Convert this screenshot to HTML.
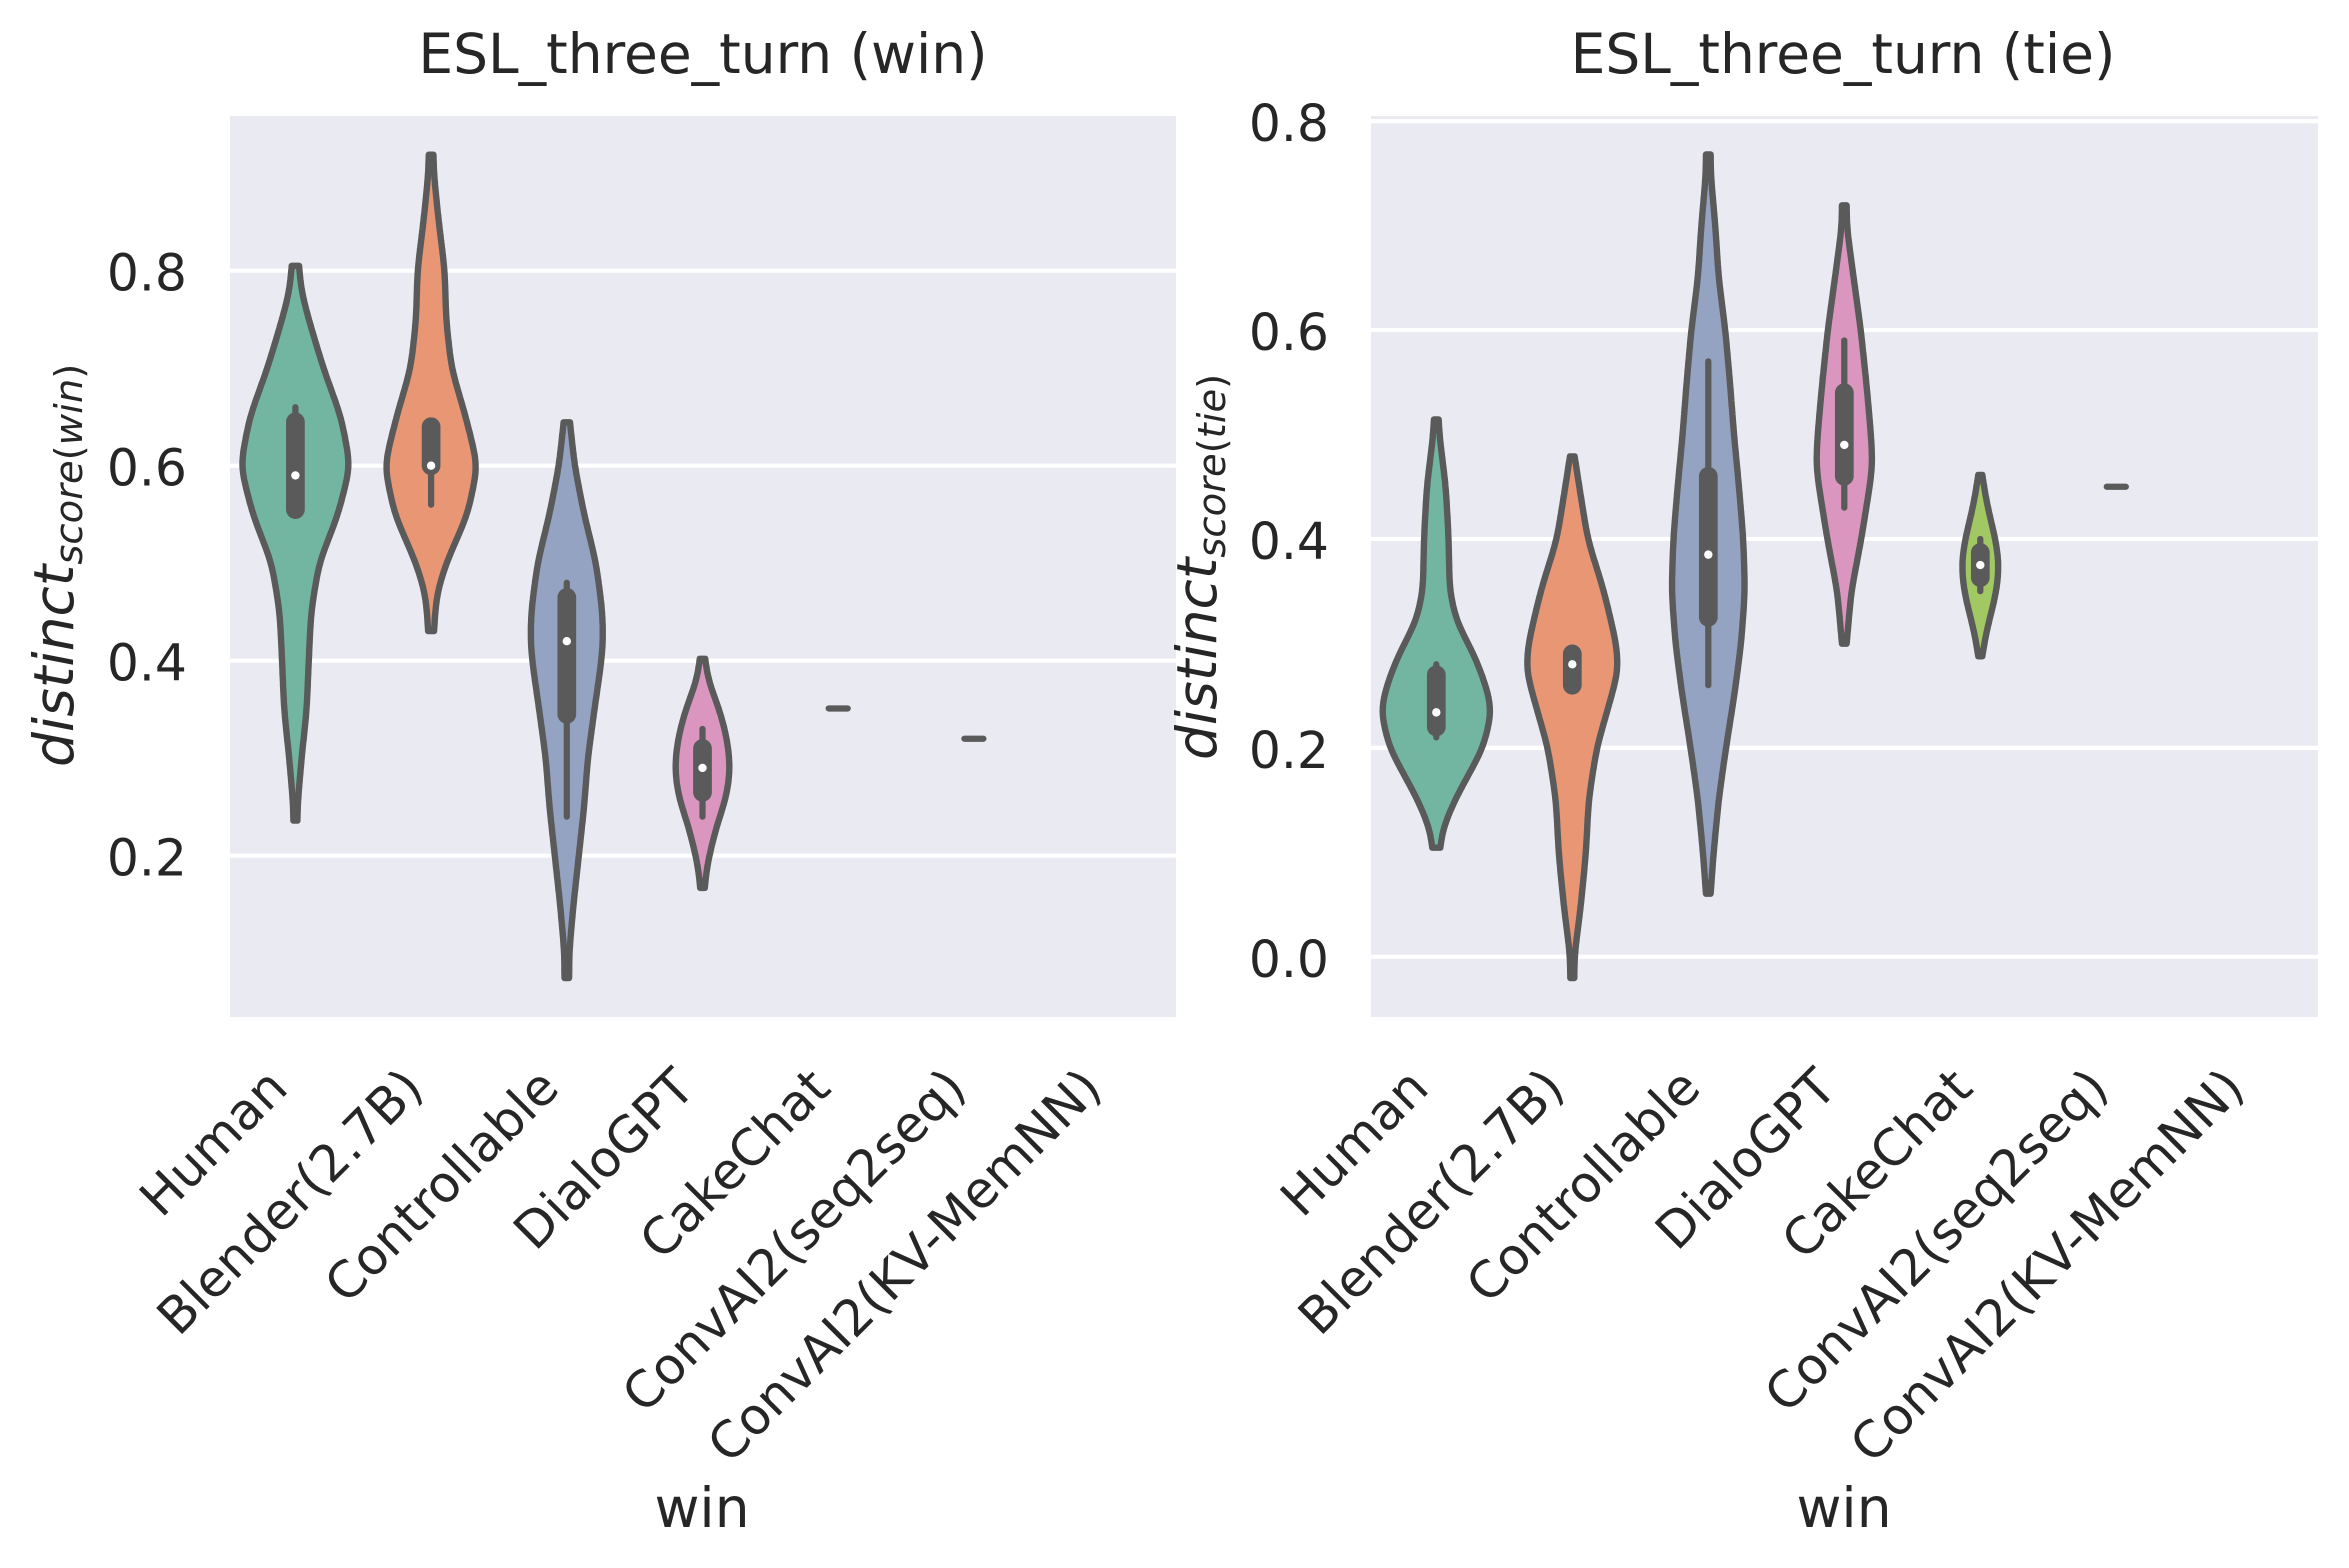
<!DOCTYPE html>
<html lang="en">
<head>
<meta charset="utf-8">
<title>ESL_three_turn violin plots</title>
<style>
html,body{margin:0;padding:0;background:#fff;}
svg{display:block;}
text{font-family:"DejaVu Sans","Liberation Sans",sans-serif;fill:#262626;}
</style>
</head>
<body>
<svg id="chart" xmlns="http://www.w3.org/2000/svg" width="2349" height="1568" viewBox="0 0 2349 1568">
  <rect x="0" y="0" width="2349" height="1568" fill="#ffffff"/>
  <g id="panel-win">
    <rect x="230" y="116" width="946" height="901" fill="#eaeaf2"/>
    <text x="703" y="73" text-anchor="middle" font-size="55">ESL_three_turn (win)</text>
    <text x="702" y="1527" text-anchor="middle" font-size="55">win</text>
    <text transform="translate(73,767) rotate(-90)" font-size="55"><tspan font-style="italic">distinct</tspan><tspan dy="9" font-size="38.5" font-style="italic">score</tspan><tspan font-size="38.5">(</tspan><tspan font-size="38.5" font-style="italic">win</tspan><tspan font-size="38.5">)</tspan></text>
  </g>
  <g id="panel-tie">
    <rect x="1371" y="116" width="947" height="901" fill="#eaeaf2"/>
    <text x="1843" y="73" text-anchor="middle" font-size="55">ESL_three_turn (tie)</text>
    <text x="1844" y="1527" text-anchor="middle" font-size="55">win</text>
    <text transform="translate(1216,760) rotate(-90)" font-size="55"><tspan font-style="italic">distinct</tspan><tspan dy="9" font-size="38.5" font-style="italic">score</tspan><tspan font-size="38.5">(</tspan><tspan font-size="38.5" font-style="italic">tie</tspan><tspan font-size="38.5">)</tspan></text>
  </g>
</svg>
<script>
const categories = ['Human','Blender(2.7B)','Controllable','DialoGPT','CakeChat','ConvAI2(seq2seq)','ConvAI2(KV-MemNN)'];
const fillColors = ['#72b6a1','#e99675','#95a3c3','#db96c0','#a2c864','#dcc37a','#c8b58f'];

const winTicks = [0.2,0.4,0.6,0.8];
const tieTicks = [0.0,0.2,0.4,0.6,0.8];

/* Win panel: density outlines (value grid + relative density) */
const winHumanValues = [0.805,0.78,0.75,0.70,0.65,0.60,0.55,0.50,0.45,0.40,0.35,0.30,0.25,0.236];
const winHumanDensity = [11,17,40,84,137,165,128,71,47,40,34,18.5,6,6];
const winBlenderValues = [0.919,0.90,0.85,0.80,0.75,0.70,0.65,0.60,0.55,0.50,0.47,0.45,0.4305];
const winBlenderDensity = [7,8,23,41,45,61,104,140,109.5,45,18,12,9];
const winControllableValues = [0.6445,0.60,0.55,0.50,0.45,0.42,0.40,0.35,0.30,0.25,0.20,0.15,0.10,0.0746];
const winControllableDensity = [9.5,23.5,52,88,107,109,104,83,63,52,36,20,7,7];
const winDialoValues = [0.402,0.38,0.35,0.32,0.29,0.26,0.23,0.20,0.18,0.167];
const winDialoDensity = [8,16,51,74,84,72,42,20,9,7];

/* Win panel: box statistics for Human, Blender, Controllable, DialoGPT */
const winMedians = [0.59,0.60,0.42,0.29];
const winQ1 = [0.555,0.60,0.345,0.265];
const winQ3 = [0.645,0.64,0.465,0.31];
const winWhiskerLow = [0.555,0.56,0.24,0.24];
const winWhiskerHigh = [0.66,0.64,0.48,0.33];

/* Win panel: single observations */
const winSingleCategories = [4,5];
const winSingleValues = [0.351,0.32];

/* Tie panel: density outlines */
const tieHumanValues = [0.5145,0.50,0.45,0.40,0.35,0.32,0.30,0.28,0.25,0.235,0.20,0.15,0.12,0.1044];
const tieHumanDensity = [7,9,28.5,37,40,61,96,126,158,167,141,55,16,12];
const tieBlenderValues = [0.479,0.45,0.40,0.35,0.30,0.275,0.25,0.20,0.15,0.10,0.05,0.00,-0.0203];
const tieBlenderDensity = [7,21,46,95,132,139,118,73,49,41,26,6,6];
const tieControllableValues = [0.768,0.75,0.70,0.65,0.60,0.55,0.50,0.45,0.40,0.35,0.30,0.25,0.20,0.15,0.10,0.0604];
const tieControllableDensity = [7,7,21,31,51,65,77,92,105,110,98.5,78,53,31,16,7];
const tieDialoValues = [0.7194,0.70,0.65,0.60,0.55,0.50,0.47,0.45,0.40,0.35,0.2997];
const tieDialoDensity = [7,7,28,49.5,66,80,85,76,51,21,7];
const tieCakeValues = [0.4613,0.44,0.42,0.40,0.375,0.35,0.33,0.31,0.2877];
const tieCakeDensity = [6,16,29.5,46,57,49,33.5,17,6];

/* Tie panel: box statistics for Human, Blender, Controllable, DialoGPT, CakeChat */
const tieMedians = [0.234,0.28,0.385,0.49,0.375];
const tieQ1 = [0.22,0.26,0.325,0.46,0.363];
const tieQ3 = [0.27,0.29,0.46,0.54,0.387];
const tieWhiskerLow = [0.21,0.26,0.26,0.43,0.35];
const tieWhiskerHigh = [0.28,0.29,0.57,0.59,0.40];

/* Tie panel: single observations */
const tieSingleCategories = [5];
const tieSingleValues = [0.45];

const SVG_NS = 'http://www.w3.org/2000/svg';
const LINE_COLOR = '#5a5a5a';
const SMOOTH_SIGMA = 12;
const SAMPLE_STEP = 2;

function make(tag, attrs, parent) {
  const el = document.createElementNS(SVG_NS, tag);
  for (const k in attrs) el.setAttribute(k, attrs[k]);
  parent.appendChild(el);
  return el;
}

function slug(text) {
  return text.toLowerCase().replace(/[^a-z0-9]+/g, '-').replace(/^-|-$/g, '');
}

/* Resamples a violin's density along the y axis and applies a kernel
   smooth, so the outline reads as a continuous KDE curve. */
function smoothProfile(values, density, scaleY) {
  const ys = values.map(scaleY);
  const top = ys[0];
  const bottom = ys[ys.length - 1];
  const n = Math.max(2, Math.round((bottom - top) / SAMPLE_STEP));
  const step = (bottom - top) / n;
  const raw = [];
  let seg = 0;
  for (let i = 0; i <= n; i++) {
    const y = top + i * step;
    while (seg < ys.length - 2 && y > ys[seg + 1]) seg++;
    const t = (y - ys[seg]) / (ys[seg + 1] - ys[seg]);
    raw.push(density[seg] + (density[seg + 1] - density[seg]) * t);
  }
  const radius = Math.ceil(3 * SMOOTH_SIGMA / step);
  const at = i => {
    if (i < 0) return 2 * raw[0] - raw[Math.min(n, -i)];
    if (i > n) return 2 * raw[n] - raw[Math.max(0, 2 * n - i)];
    return raw[i];
  };
  const out = [];
  for (let i = 0; i <= n; i++) {
    let sum = 0, weight = 0;
    for (let k = -radius; k <= radius; k++) {
      const w = Math.exp(-0.5 * Math.pow(k * step / SMOOTH_SIGMA, 2));
      sum += w * at(i + k);
      weight += w;
    }
    out.push([top + i * step, Math.max(0, sum / weight)]);
  }
  return out;
}

function drawPanel(panelId, prefix, scaleX, scaleY, plot, ticks, tickAnchor, violins, stats, singles) {
  const panel = document.getElementById(panelId);
  const densityToPx = d => d / 3;
  const dashHalfWidth = 0.07;

  ticks.forEach(t => {
    const y = scaleY(t);
    const line = make('line', {x1: plot.left, x2: plot.right, y1: y, y2: y, stroke: '#ffffff', 'stroke-width': 4.17}, panel);
    
    
    const label = make('text', {x: tickAnchor, y: y + 20, 'text-anchor': 'end', 'font-size': 50.4}, panel);
    label.textContent = t.toFixed(1);
    
    
  });

  violins.forEach((v, i) => {
    const cx = scaleX(i);
    const profile = smoothProfile(v.values, v.density, scaleY);
    const rightSide = profile.map(p => (cx + densityToPx(p[1])).toFixed(1) + ' ' + p[0].toFixed(1));
    const leftSide = profile.slice().reverse().map(p => (cx - densityToPx(p[1])).toFixed(1) + ' ' + p[0].toFixed(1));
    const d = 'M' + rightSide.concat(leftSide).join('L') + 'Z';
    const body = make('path', {d: d, fill: fillColors[i], stroke: LINE_COLOR, 'stroke-width': 6.4, 'stroke-linejoin': 'round'}, panel);
    
    

    const whisker = make('line', {x1: cx, x2: cx, y1: scaleY(stats.low[i]), y2: scaleY(stats.high[i]), stroke: LINE_COLOR, 'stroke-width': 6.25, 'stroke-linecap': 'round'}, panel);
    
    

    const box = make('line', {x1: cx, x2: cx, y1: scaleY(stats.q1[i]), y2: scaleY(stats.q3[i]), stroke: LINE_COLOR, 'stroke-width': 18.75, 'stroke-linecap': 'round'}, panel);
    
    

    const dot = make('circle', {cx: cx, cy: scaleY(stats.median[i]), r: 4.2, fill: '#ffffff'}, panel);
    
    
  });

  singles.categories.forEach((c, k) => {
    const y = scaleY(singles.values[k]);
    const dash = make('line', {x1: scaleX(c - dashHalfWidth), x2: scaleX(c + dashHalfWidth), y1: y, y2: y, stroke: LINE_COLOR, 'stroke-width': 6.25, 'stroke-linecap': 'round'}, panel);
    
    
  });

  categories.forEach((name, i) => {
    const px = scaleX(i) - 5.5;
    const py = 1090.5;
    const label = make('text', {transform: 'translate(' + px.toFixed(1) + ',' + py + ') rotate(-45)', 'text-anchor': 'end', 'font-size': 50.4}, panel);
    label.textContent = name;
    
    
  });
}

const xWin = i => 295.4 + i * 135.7;
const yWin = v => 855.7 - (v - 0.2) * 975;
const xTie = i => 1436.3 + i * 136;
const yTie = v => 956.8 - v * 1044.6;

drawPanel('panel-win', 'win', xWin, yWin, {left: 230, right: 1176}, winTicks, 187,
  [
    {values: winHumanValues, density: winHumanDensity},
    {values: winBlenderValues, density: winBlenderDensity},
    {values: winControllableValues, density: winControllableDensity},
    {values: winDialoValues, density: winDialoDensity}
  ],
  {median: winMedians, q1: winQ1, q3: winQ3, low: winWhiskerLow, high: winWhiskerHigh},
  {categories: winSingleCategories, values: winSingleValues});

drawPanel('panel-tie', 'tie', xTie, yTie, {left: 1371, right: 2318}, tieTicks, 1329,
  [
    {values: tieHumanValues, density: tieHumanDensity},
    {values: tieBlenderValues, density: tieBlenderDensity},
    {values: tieControllableValues, density: tieControllableDensity},
    {values: tieDialoValues, density: tieDialoDensity},
    {values: tieCakeValues, density: tieCakeDensity}
  ],
  {median: tieMedians, q1: tieQ1, q3: tieQ3, low: tieWhiskerLow, high: tieWhiskerHigh},
  {categories: tieSingleCategories, values: tieSingleValues});
</script>
</body>
</html>
